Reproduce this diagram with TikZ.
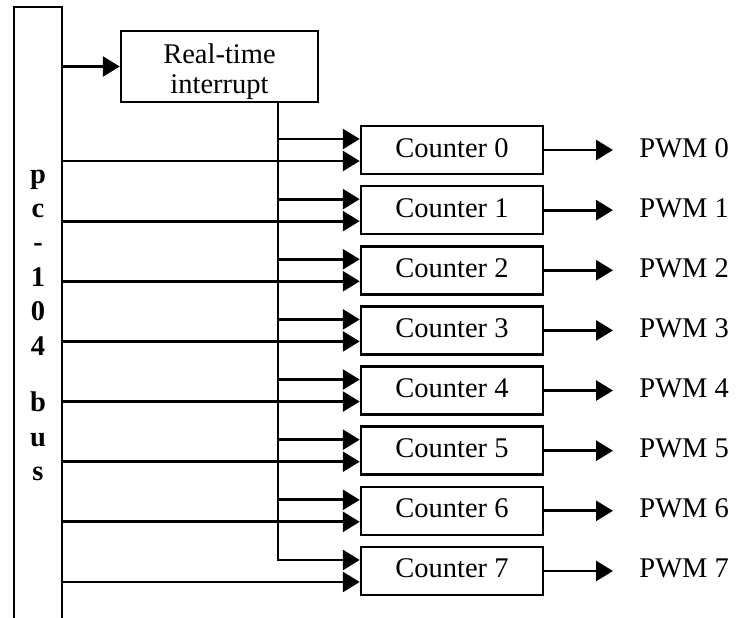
\documentclass[tikz,border=0pt]{standalone}
\usepackage{fontspec}
\setmainfont{Liberation Serif}
\usetikzlibrary{arrows.meta,calc}
\begin{document}
\begin{tikzpicture}[x=1pt,y=-1pt,line width=2.8pt,
  arr/.style={-{Triangle[length=17pt,width=20pt]}},
  box/.style={draw,rectangle,inner sep=0pt,line width=2.5pt},
  txt/.style={font=\fontsize{28.5}{30}\selectfont,inner sep=0pt},
  lbl/.style={txt,text height=19pt,text depth=5pt},
  busletter/.style={font=\fontsize{28.5}{30}\selectfont\bfseries,anchor=base,inner sep=0pt},
]
\useasboundingbox (0,0) rectangle (736,618);

% PC-104 bus (open at the bottom)
\draw (14,618) -- (14,7) -- (62,7) -- (62,618);
\coordinate (busR) at (62,7);
\foreach \ch/\yb [count=\i] in {p/183.5,c/217.5,-/251.5,1/286,0/320.5,4/355,b/411.5,u/446,s/480}
  \node[busletter] (bus\i) at (38,\yb) {\ch};

% real-time interrupt block
\node[box,minimum width=197pt,minimum height=71pt] (rti) at (219.5,66.5) {};
\node[txt,align=center] (rtitext) at (219.5,71.2) {Real-time\\interrupt};
\draw[arr] (busR |- rti.west) -- (rti.west);
\coordinate (trunk) at (278,102);

% counters and their PWM outputs
\foreach \k in {0,...,7}{
  \pgfmathsetmacro\yc{150+60.14*\k}
  \node[box,lbl,minimum width=182pt,minimum height=48pt] (c\k) at (452,\yc) {Counter \k};
  \coordinate (in\k) at ($(c\k.west)+(0,-11)$);
  \coordinate (lo\k) at ($(c\k.west)+(0,11)$);
  \node[lbl,anchor=west] (p\k) at (638,\yc) {PWM \k};
  \draw[arr] (c\k.east) -- ([xshift=-25pt]p\k.west);
  \draw[arr] (busR |- lo\k) -- (lo\k);
}
\foreach \k in {0,...,6}
  \draw[arr] (trunk |- in\k) -- (in\k);
\draw[arr] (trunk) |- (in7);
\end{tikzpicture}
\end{document}
